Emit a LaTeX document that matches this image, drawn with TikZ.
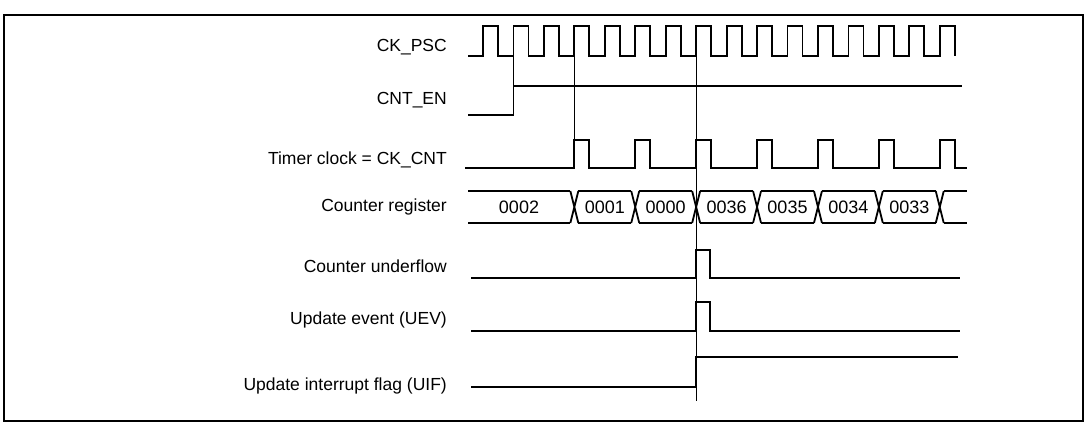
\documentclass[tikz,border=0pt]{standalone}
\usepackage{fontspec}
\setmainfont{Liberation Sans}
\usetikzlibrary{calc}
\def\mausig{black}
\def\maunen{white}
\tikzset{
  sig/.style={draw=\mausig,line width=1.8pt,line join=miter},
  vline/.style={draw=\mausig,line width=0.8pt},
  lab/.style={anchor=east,inner sep=0pt,font=\fontsize{17.5}{20}\selectfont},
  val/.style={inner sep=0pt,font=\fontsize{18}{20}\selectfont}
}
\begin{document}
\begin{tikzpicture}[x=1pt,y=-1pt,declare function={p=30.45;r0=483;xl=447;}]
		\useasboundingbox[fill=\maunen] (0,0) rectangle (1087,424);
		\draw[line width=1.5pt] (4,15) rectangle (1083,421);
		% labels
		\path (xl,47) node[lab] (lpsc) {CK\_PSC}
		(xl,100) node[lab] (len) {CNT\_EN}
		(xl,160) node[lab] (lclk) {Timer clock = CK\_CNT}
		(xl,207) node[lab] (lreg) {Counter register}
		(xl,266) node[lab] (lund) {Counter underflow}
		(xl,320) node[lab] (luev) {Update event (UEV)}
		(xl,386) node[lab] (luif) {Update interrupt flag (UIF)};
		% prescaler clock
		\draw[sig] (468,56) \foreach \i in {0,...,15}{
		  -- ({r0+p*\i},56) -- ({r0+p*\i},26) -- ({r0+15+p*\i},26) -- ({r0+15+p*\i},56)};
		% enable
		\draw[sig] (468,115) -- ({r0+p},115) -- ({r0+p},86) -- (962,86);
		% counter clock
		\draw[sig] (465,168) \foreach \i in {0,...,6}{
		  -- ({r0+3*p+2*p*\i},168) -- ({r0+3*p+2*p*\i},140) -- ({r0+3*p+15+2*p*\i},140) -- ({r0+3*p+15+2*p*\i},168)} -- (967,168);
		% counter register
		\draw[sig] (468,191) -- ({r0+3*p-4},191) (468,223) -- ({r0+3*p-4},223);
		\foreach \i in {0,...,6}{
		  \draw[sig] ({r0+3*p+2*p*\i-4},191) -- ({r0+3*p+2*p*\i+4},223)
		    ({r0+3*p+2*p*\i-4},223) -- ({r0+3*p+2*p*\i+4},191);
		  \draw[sig] ({r0+3*p+2*p*\i+4},191) -- ({min(r0+5*p+2*p*\i-4,967)},191)
		    ({r0+3*p+2*p*\i+4},223) -- ({min(r0+5*p+2*p*\i-4,967)},223);
		}
		\path (519,207) node[val] (v0) {0002};
		\foreach \v [count=\i from 0] in {0001,0000,0036,0035,0034,0033}
		  \path ({r0+4*p+2*p*\i},207) node[val] (v\v) {\v};
		% underflow, update event, flag
		\draw[sig] (471,278) -- ({r0+7*p},278) -- ({r0+7*p},250) -- (710,250) -- (710,278) -- (960,278);
		\draw[sig] (471,331) -- ({r0+7*p},331) -- ({r0+7*p},302) -- (710,302) -- (710,331) -- (960,331);
		\draw[sig] (471,387) -- ({r0+7*p},387) -- ({r0+7*p},357) -- (958,357);
		% markers
		\path ({r0+p},56) coordinate (m1) ({r0+3*p},56) coordinate (m2) ({r0+7*p},56) coordinate (m3);
		\draw[vline] (m1) -- ($(m1)+(0,59)$) (m2) -- ($(m2)+(0,84)$) (m3) -- ($(m3)+(0,345)$);
	\end{tikzpicture}
\end{document}
